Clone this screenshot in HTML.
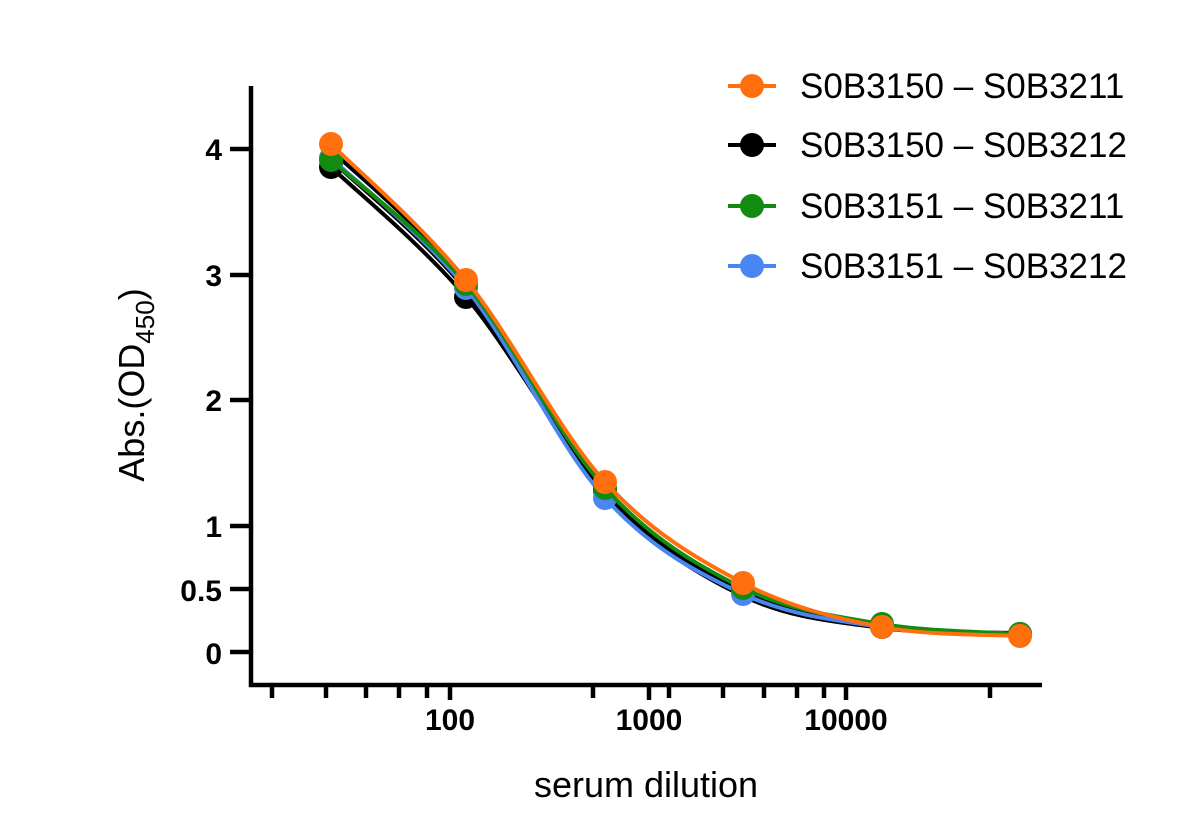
<!DOCTYPE html>
<html><head><meta charset="utf-8"><style>
html,body{margin:0;padding:0;background:#fff;}
svg{display:block;font-family:"Liberation Sans",Arial,sans-serif;}
</style></head><body>
<svg id="s" width="1192" height="836" viewBox="0 0 1192 836" xmlns="http://www.w3.org/2000/svg">
<g stroke="#000" stroke-width="4.5" fill="none">
<path d="M251 86 V685 H1042"/>
<path d="M230 149 H251 M230 275 H251 M230 400 H251 M230 526 H251 M230 589 H251 M230 652 H251"/>
<path d="M272 685 V698 M326 685 V698 M366 685 V698 M399 685 V698 M427 685 V698 M450 685 V700 M593 685 V698 M649 685 V700 M669 685 V698 M723 685 V698 M764 685 V698 M797 685 V698 M824 685 V698 M846 685 V700 M990 685 V698"/>
</g>
<g font-size="30" font-weight="bold" text-anchor="end">
<text x="222" y="160">4</text><text x="222" y="286">3</text><text x="222" y="411">2</text>
<text x="222" y="537">1</text><text x="222" y="601">0.5</text><text x="222" y="664">0</text>
</g>
<g font-size="30" font-weight="bold" text-anchor="middle">
<text x="450" y="730">100</text><text x="649" y="730">1000</text><text x="846" y="730">10000</text>
</g>
<text x="646" y="797" font-size="36" text-anchor="middle">serum dilution</text>
<text transform="translate(144,385) rotate(-90)" font-size="36" text-anchor="middle">Abs.(OD<tspan font-size="26" dy="10">450</tspan><tspan dy="-10">)</tspan></text>
<g id="curves"></g>
<g font-size="35">
<path d="M728 86 H776" stroke="#ff6f0e" stroke-width="4"/><circle cx="752" cy="86" r="12" fill="#ff6f0e"/>
<text x="800" y="98">S0B3150 – S0B3211</text>
<path d="M728 145 H776" stroke="#000" stroke-width="4"/><circle cx="752" cy="145" r="12" fill="#000"/>
<text x="800" y="157">S0B3150 – S0B3212</text>
<path d="M728 206 H776" stroke="#118c11" stroke-width="4"/><circle cx="752" cy="206" r="12" fill="#118c11"/>
<text x="800" y="218">S0B3151 – S0B3211</text>
<path d="M728 266 H776" stroke="#4a86f0" stroke-width="4"/><circle cx="752" cy="266" r="12" fill="#4a86f0"/>
<text x="800" y="278">S0B3151 – S0B3212</text>
</g>
</svg>
<script>
var X=[331,466,605,743,882,1020];
function path(ys){var p=X.map(function(x,i){return [x,ys[i]];});
var d="M"+p[0][0]+" "+p[0][1];
for(var i=0;i<p.length-1;i++){var p0=p[i-1]||p[i],p1=p[i],p2=p[i+1],p3=p[i+2]||p2;
d+=" C"+(p1[0]+(p2[0]-p0[0])/6)+" "+(p1[1]+(p2[1]-p0[1])/6)+" "+(p2[0]-(p3[0]-p1[0])/6)+" "+(p2[1]-(p3[1]-p1[1])/6)+" "+p2[0]+" "+p2[1];}
return d;}
var series=[
["#000",[150,282,490,592,627,633],false],
["#000",[160,290,495,596,628,634],false],
["#000",[167,297,490,590,627,634],true],
["#4a86f0",[158,288,498,594,627,634],true],
["#118c11",[160,284,488,588,624,634],true],
["#ff6f0e",[144,280,482,583,627,636],true]];
var g=document.getElementById("curves"),h="";
series.forEach(function(s){h+='<path d="'+path(s[1])+'" stroke="'+s[0]+'" stroke-width="4" fill="none"/>';
if(s[2])X.forEach(function(x,i){h+='<circle cx="'+x+'" cy="'+s[1][i]+'" r="12" fill="'+s[0]+'"/>';});});
g.innerHTML=h;
</script>
</body></html>
